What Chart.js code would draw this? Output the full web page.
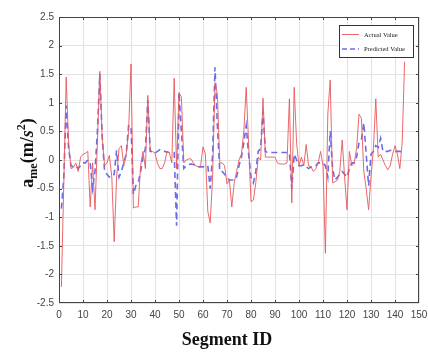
<!DOCTYPE html>
<html>
<head>
<meta charset="utf-8">
<script src="https://cdn.jsdelivr.net/npm/chart.js@4/dist/chart.umd.min.js"></script>
<style>
    html, body { margin: 0; padding: 0; background: #fff; }
    #wrap { width: 428px; height: 354px; }
</style>
</head>
<body>
<div id="wrap"><canvas id="chart" width="428" height="354"></canvas></div>
<script>
    //------------------------------------------Datos------------------------------------------------------------------

    const actualValue = [
        -2.22, -0.40, 1.45, 0.30, -0.15, -0.13, -0.05, -0.20, 0.05, 0.10,
        0.12, 0.15, -0.82, -0.05, -0.87, 0.30, 1.55, 0.40, -0.10, -0.05,
        0.08, -0.30, -1.43, -0.30, 0.20, 0.25, -0.10, 0.10, 0.50, 1.68,
        -0.84, -0.82, -0.82, -0.10, 0.15, -0.15, 1.13, 0.15, 0.15, 0.12,
        -0.05, -0.15, -0.15, -0.05, 0.15, 0.12, -0.05, 1.43, -0.15, 1.18,
        1.10, -0.05, 0.00, 0.02, 0.02, -0.05, -0.10, -0.12, -0.10, 0.23,
        0.10, -0.90, -1.10, -0.30, 1.35, 1.15, -0.05, -0.05, -0.10, -0.42,
        -0.35, -0.82, -0.40, -0.20, 0.00, 0.10, 0.50, 1.27, 0.30, -0.73,
        -0.70, -0.40, 0.05, 0.00, 1.08, 0.05, 0.05, 0.05, 0.05, 0.05,
        -0.05, -0.07, -0.07, -0.07, -0.05, 1.07, -0.75, 1.27, 0.30, -0.10,
        0.05, -0.10, 0.27, -0.10, -0.12, -0.20, -0.15, -0.05, 0.15, -0.10,
        -1.63, 0.80, 1.40, -0.40, -0.38, -0.35, -0.20, 0.35, -0.30, -0.87,
        0.15, -0.10, -0.05, 0.20, 0.80, 0.73, -0.20, -0.50, -0.87, -0.30,
        0.20, 1.07, 0.05, 0.10, 0.00, -0.10, -0.17, -0.10, 0.10, 0.25,
        0.10, -0.15, 0.30, 1.72
    ];

    const predictedValue = [
        -0.85, -0.30, 0.95, 0.20, -0.10, -0.12, -0.10, -0.15, -0.10, -0.05,
        -0.05, 0.00, -0.05, -0.50, -0.20, 0.50, 1.50, 0.40, -0.20, -0.25,
        -0.30, -0.30, -0.25, 0.17, -0.30, -0.20, -0.05, 0.10, 0.60, 0.60,
        -0.60, -0.45, -0.40, -0.20, 0.05, 0.20, 1.05, 0.15, 0.15, 0.12,
        0.15, 0.18, 0.15, 0.15, 0.14, 0.13, 0.13, 0.13, -1.15, 1.18,
        0.50, -0.15, -0.10, -0.08, -0.07, -0.08, -0.10, -0.12, -0.12, -0.12,
        -0.10, -0.10, -0.50, 0.10, 1.62, 0.60, -0.20, -0.20, -0.25, -0.30,
        -0.35, -0.35, -0.35, -0.30, -0.10, 0.05, 0.30, 0.60, 0.10, -0.30,
        -0.40, -0.20, 0.15, 0.20, 0.85, 0.15, 0.13, 0.13, 0.13, 0.13,
        0.13, 0.13, 0.13, 0.13, 0.13, 0.13, -0.50, 0.10, 0.00, -0.10,
        -0.10, -0.08, -0.12, -0.15, -0.12, -0.12, -0.10, -0.05, -0.05, -0.05,
        -0.10, -0.30, 0.50, -0.15, -0.35, -0.30, -0.25, -0.20, -0.25, -0.30,
        -0.15, -0.05, -0.05, 0.05, 0.30, 0.35, 0.65, 0.10, -0.45, 0.10,
        0.15, 0.25, 0.22, 0.38, 0.15, 0.15, 0.15, 0.17, 0.16, 0.15,
        0.15, 0.15, 0.14, 0.14
    ];

    // Segment ID 1..144
    const segmentIds = actualValue.map((v, i) => i + 1);

    const legendLabels = ["Actual Value", "Predicted Value"];
    const xTitle = "Segment ID";

    const colorActual = "rgba(232, 88, 92, 0.9)";
    const colorPredicted = "rgba(92, 92, 232, 0.9)";

    //------------------------------------------Funciones------------------------------------------------------------------

    function toPoints(values) {
        return values.map((v, i) => ({ x: segmentIds[i], y: v }));
    }

    function plainTick(value) {
        return String(Math.round(value * 100) / 100);
    }

    // quita el margen que Chart.js reserva para la ultima etiqueta
    function noEdgePadding(scale) {
        scale.paddingLeft = 0;
        scale.paddingRight = 0;
        scale.paddingTop = 0;
        scale.paddingBottom = 0;
    }

    // Ejes, recuadro, titulos y leyenda al estilo MATLAB
    const decorPlugin = {
        id: "decor",
        afterDatasetsDraw(chart) {
            const ctx = chart.ctx;
            const a = chart.chartArea;
            const xs = chart.scales.x;
            const ys = chart.scales.y;
            ctx.save();

            // recuadro
            ctx.strokeStyle = "#444";
            ctx.lineWidth = 1;
            ctx.strokeRect(a.left + 0.5, a.top + 0.5, a.right - a.left - 1, a.bottom - a.top - 1);

            // marcas interiores
            ctx.beginPath();
            for (let v = 10; v < 150; v += 10) {
                const px = Math.round(xs.getPixelForValue(v)) + 0.5;
                ctx.moveTo(px, a.bottom); ctx.lineTo(px, a.bottom - 3);
                ctx.moveTo(px, a.top); ctx.lineTo(px, a.top + 3);
            }
            for (let v = -2; v <= 2; v += 0.5) {
                const py = Math.round(ys.getPixelForValue(v)) + 0.5;
                ctx.moveTo(a.left, py); ctx.lineTo(a.left + 3, py);
                ctx.moveTo(a.right, py); ctx.lineTo(a.right - 3, py);
            }
            ctx.stroke();

            // leyenda
            const lx = 339, ly = 25, lw = 74, lh = 32;
            ctx.fillStyle = "#fff";
            ctx.fillRect(lx, ly, lw, lh);
            ctx.strokeStyle = "#333";
            ctx.strokeRect(lx + 0.5, ly + 0.5, lw, lh);
            ctx.lineWidth = 1;
            ctx.strokeStyle = colorActual;
            ctx.beginPath(); ctx.moveTo(lx + 3, ly + 9.5); ctx.lineTo(lx + 20, ly + 9.5); ctx.stroke();
            ctx.strokeStyle = colorPredicted;
            ctx.lineWidth = 1.5;
            ctx.setLineDash([5, 3]);
            ctx.beginPath(); ctx.moveTo(lx + 3, ly + 24); ctx.lineTo(lx + 20, ly + 24); ctx.stroke();
            ctx.setLineDash([]);
            ctx.fillStyle = "#222";
            ctx.font = "6.5px 'Liberation Serif', serif";
            ctx.textBaseline = "middle";
            ctx.textAlign = "left";
            ctx.fillText(legendLabels[0], lx + 25, ly + 10);
            ctx.fillText(legendLabels[1], lx + 25, ly + 24);

            // titulo eje x
            ctx.fillStyle = "#111";
            ctx.font = "bold 18px 'Liberation Serif', serif";
            ctx.textAlign = "center";
            ctx.textBaseline = "alphabetic";
            ctx.fillText(xTitle, 227, 345);

            // titulo eje y: a_me(m/s^2)
            ctx.translate(27, 153);
            ctx.rotate(-Math.PI / 2);
            const big = "bold 18px 'Liberation Serif', serif";
            const small = "bold 12px 'Liberation Serif', serif";
            const bigI = "bold italic 18px 'Liberation Serif', serif";
            const parts = [
                { t: "a", f: big, dy: 0 },
                { t: "me", f: small, dy: 4 },
                { t: "(m/", f: big, dy: 0 },
                { t: "s", f: bigI, dy: 0 },
                { t: "2", f: small, dy: -8 },
                { t: ")", f: big, dy: 0 }
            ];
            let total = 0;
            parts.forEach(p => { ctx.font = p.f; p.w = ctx.measureText(p.t).width; total += p.w; });
            let cx = -total / 2;
            ctx.textAlign = "left";
            parts.forEach(p => {
                ctx.font = p.f;
                ctx.fillText(p.t, cx, 6 + p.dy);
                cx += p.w;
            });
            ctx.restore();
        }
    };

    //------------------------------------------Grafico------------------------------------------------------------------

    const ctx = document.getElementById("chart").getContext("2d");
    const myChart = new Chart(ctx, {
        type: "line",
        data: {
            datasets: [
                {
                    label: legendLabels[0],
                    data: toPoints(actualValue),
                    borderColor: colorActual,
                    borderWidth: 1,
                    pointRadius: 0,
                    tension: 0
                },
                {
                    label: legendLabels[1],
                    data: toPoints(predictedValue),
                    borderColor: colorPredicted,
                    borderWidth: 1.6,
                    borderDash: [6, 4],
                    pointRadius: 0,
                    tension: 0
                }
            ]
        },
        options: {
            responsive: false,
            animation: false,
            layout: { padding: { top: 17, right: 9, left: 0, bottom: 0 } },
            plugins: {
                legend: { display: false },
                tooltip: { enabled: false }
            },
            scales: {
                x: {
                    type: "linear",
                    min: 0,
                    max: 150,
                    ticks: {
                        stepSize: 10,
                        color: "#444",
                        font: { family: "'Liberation Sans', Arial, sans-serif", size: 10 },
                        padding: 6,
                        maxRotation: 0,
                        callback: plainTick
                    },
                    grid: { color: "#e2e2e2", drawTicks: false },
                    border: { display: false },
                    afterFit(scale) { scale.height = 51; noEdgePadding(scale); }
                },
                y: {
                    min: -2.5,
                    max: 2.5,
                    ticks: {
                        stepSize: 0.5,
                        color: "#444",
                        font: { family: "'Liberation Sans', Arial, sans-serif", size: 10 },
                        padding: 5,
                        callback: plainTick
                    },
                    grid: { color: "#e2e2e2", drawTicks: false },
                    border: { display: false },
                    afterFit(scale) { scale.width = 59; noEdgePadding(scale); }
                }
            }
        },
        plugins: [decorPlugin]
    });
</script>
</body>
</html>
